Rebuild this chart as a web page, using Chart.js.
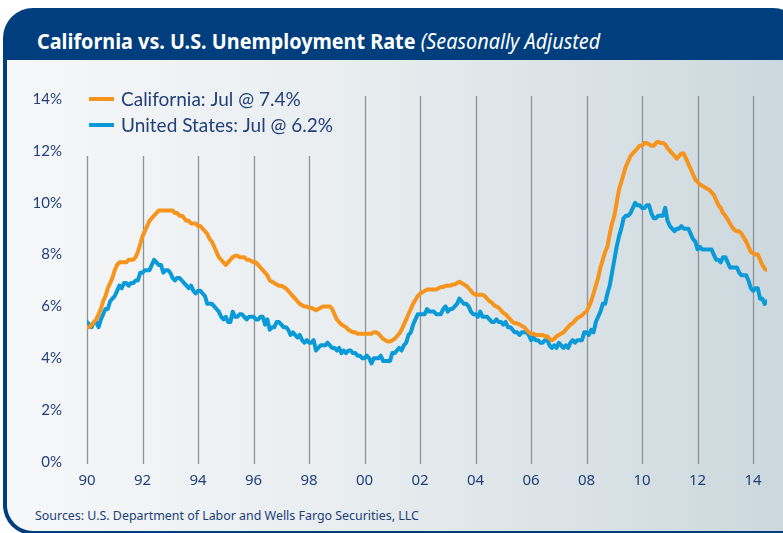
<!DOCTYPE html>
<html>
<head>
<meta charset="utf-8">
<script src="https://cdn.jsdelivr.net/npm/chart.js@4.4.1/dist/chart.umd.min.js"></script>
<style>
  html, body { margin: 0; padding: 0; width: 783px; height: 533px; overflow: hidden; background: #ffffff; }
  #frame { position: absolute; left: 3px; top: 8px; width: 800px; height: 527px; background: #003e7e; border-radius: 30px; }
  #panel { position: absolute; left: 4px; top: 52px; right: 0; bottom: 4px;
    background: linear-gradient(to right, #f6f7f9 0%, #eaeef0 40%, #dbe3e7 70%, #cad7dd 100%);
    border-bottom-left-radius: 26px; }
  #title { position: absolute; left: 37px; top: 29px; color: #ffffff; font-family: 'Noto Sans', sans-serif;
    font-size: 22px; line-height: 22px; white-space: nowrap; transform: scaleX(0.9); transform-origin: 0 0; }
  #title b { font-weight: bold; }
  #title i { font-weight: normal; font-style: italic; }
  #source { position: absolute; left: 35px; top: 506px; color: #21407a; font-family: 'Noto Sans', sans-serif;
    font-size: 13px; white-space: nowrap; transform: scaleX(0.955); transform-origin: 0 0; }
  #wrap { position: absolute; left: 0; top: 0; width: 783px; height: 533px; }
</style>
</head>
<body>
<div id="frame"><div id="panel"></div></div>
<div id="title"><b>California vs. U.S. Unemployment Rate</b> <i>(Seasonally Adjusted</i></div>
<div id="source">Sources: U.S. Department of Labor and Wells Fargo Securities, LLC</div>
<div id="wrap"><canvas id="chart" width="783" height="533"></canvas></div>
<script>
// Monthly unemployment rate, Jan 1990 - Jul 2014 (percent)
const startYear = 1990;
const caRate = [
  5.2, 5.2, 5.3, 5.4, 5.5, 5.7, 5.9, 6.2, 6.4, 6.7, 6.9, 7.1,        // 1990
  7.4, 7.6, 7.7, 7.7, 7.7, 7.7, 7.8, 7.8, 7.8, 7.9, 8.1, 8.4,        // 1991
  8.7, 8.9, 9.1, 9.3, 9.4, 9.5, 9.6, 9.7, 9.7, 9.7, 9.7, 9.7,        // 1992
  9.7, 9.7, 9.6, 9.6, 9.5, 9.5, 9.4, 9.3, 9.3, 9.2, 9.2, 9.2,        // 1993
  9.1, 9.1, 9.0, 8.9, 8.8, 8.6, 8.5, 8.3, 8.1, 7.9, 7.8, 7.7,        // 1994
  7.6, 7.7, 7.8, 7.9, 7.95, 7.95, 7.9, 7.9, 7.9, 7.8, 7.8, 7.75,     // 1995
  7.7, 7.7, 7.6, 7.5, 7.4, 7.3, 7.2, 7.0, 6.95, 6.9, 6.85, 6.8,      // 1996
  6.8, 6.75, 6.7, 6.6, 6.5, 6.4, 6.3, 6.2, 6.1, 6.05, 6.0, 6.0,      // 1997
  5.95, 5.95, 5.9, 5.85, 5.9, 5.95, 6.0, 6.0, 6.0, 6.0, 5.9, 5.7,    // 1998
  5.5, 5.4, 5.3, 5.25, 5.2, 5.1, 5.05, 5.0, 5.0, 4.95, 4.95, 4.95,   // 1999
  4.95, 4.95, 4.95, 4.95, 5.0, 5.0, 4.95, 4.85, 4.75, 4.7, 4.65, 4.65, // 2000
  4.7, 4.75, 4.85, 4.95, 5.1, 5.3, 5.5, 5.7, 5.9, 6.1, 6.25, 6.4,    // 2001
  6.5, 6.55, 6.6, 6.65, 6.65, 6.65, 6.65, 6.65, 6.7, 6.75, 6.75, 6.8, // 2002
  6.8, 6.8, 6.85, 6.85, 6.9, 6.95, 6.9, 6.85, 6.8, 6.7, 6.6, 6.5,    // 2003
  6.45, 6.45, 6.45, 6.45, 6.4, 6.3, 6.2, 6.15, 6.05, 6.0, 5.95, 5.85, // 2004
  5.75, 5.7, 5.6, 5.5, 5.4, 5.35, 5.35, 5.3, 5.25, 5.2, 5.1, 5.0,    // 2005
  4.95, 4.95, 4.9, 4.9, 4.9, 4.9, 4.85, 4.85, 4.75, 4.7, 4.75, 4.85, // 2006
  4.9, 4.95, 5.0, 5.1, 5.2, 5.3, 5.35, 5.45, 5.55, 5.6, 5.65, 5.75,  // 2007
  5.8, 6.0, 6.2, 6.5, 6.8, 7.1, 7.5, 7.8, 8.1, 8.3, 8.8, 9.2,        // 2008
  9.5, 10.0, 10.5, 10.8, 11.1, 11.4, 11.6, 11.8, 11.9, 12.0, 12.1, 12.2, // 2009
  12.2, 12.3, 12.3, 12.25, 12.2, 12.2, 12.3, 12.35, 12.3, 12.3, 12.25, 12.1, // 2010
  12.0, 11.9, 11.8, 11.7, 11.8, 11.9, 11.9, 11.7, 11.5, 11.3, 11.1, 10.9, // 2011
  10.8, 10.7, 10.65, 10.6, 10.55, 10.5, 10.4, 10.3, 10.1, 9.9, 9.8, 9.6, // 2012
  9.5, 9.35, 9.2, 9.05, 8.95, 8.9, 8.9, 8.8, 8.65, 8.5, 8.3, 8.1,    // 2013
  8.05, 8.0, 8.0, 7.8, 7.6, 7.45, 7.4                                 // 2014
];
const usRate = [
  5.4, 5.3, 5.2, 5.4, 5.4, 5.2, 5.5, 5.7, 5.9, 5.9, 6.2, 6.3,        // 1990
  6.4, 6.6, 6.8, 6.7, 6.9, 6.9, 6.8, 6.9, 6.9, 7.0, 7.0, 7.3,        // 1991
  7.3, 7.4, 7.4, 7.4, 7.6, 7.8, 7.7, 7.6, 7.6, 7.3, 7.4, 7.4,        // 1992
  7.3, 7.1, 7.0, 7.1, 7.1, 7.0, 6.9, 6.8, 6.7, 6.8, 6.6, 6.5,        // 1993
  6.6, 6.6, 6.5, 6.4, 6.1, 6.1, 6.1, 6.0, 5.9, 5.8, 5.6, 5.5,        // 1994
  5.6, 5.4, 5.4, 5.8, 5.6, 5.6, 5.7, 5.7, 5.6, 5.5, 5.6, 5.6,        // 1995
  5.6, 5.5, 5.5, 5.6, 5.6, 5.3, 5.5, 5.1, 5.2, 5.2, 5.4, 5.4,        // 1996
  5.3, 5.2, 5.2, 5.1, 4.9, 5.0, 4.9, 4.8, 4.9, 4.7, 4.6, 4.7,        // 1997
  4.6, 4.6, 4.7, 4.3, 4.4, 4.5, 4.5, 4.5, 4.6, 4.5, 4.4, 4.4,        // 1998
  4.3, 4.4, 4.2, 4.3, 4.2, 4.3, 4.3, 4.2, 4.2, 4.1, 4.1, 4.0,        // 1999
  4.0, 4.1, 4.0, 3.8, 4.0, 4.0, 4.0, 4.1, 3.9, 3.9, 3.9, 3.9,        // 2000
  4.2, 4.2, 4.3, 4.4, 4.3, 4.5, 4.6, 4.9, 5.0, 5.3, 5.5, 5.7,        // 2001
  5.7, 5.7, 5.7, 5.9, 5.8, 5.8, 5.8, 5.7, 5.7, 5.7, 5.9, 6.0,        // 2002
  5.8, 5.9, 5.9, 6.0, 6.1, 6.3, 6.2, 6.1, 6.1, 6.0, 5.8, 5.7,        // 2003
  5.7, 5.6, 5.8, 5.6, 5.6, 5.6, 5.5, 5.4, 5.4, 5.5, 5.4, 5.4,        // 2004
  5.3, 5.4, 5.2, 5.2, 5.1, 5.0, 5.0, 4.9, 5.0, 5.0, 5.0, 4.9,        // 2005
  4.7, 4.8, 4.7, 4.7, 4.6, 4.6, 4.7, 4.7, 4.5, 4.4, 4.5, 4.4,        // 2006
  4.6, 4.5, 4.4, 4.5, 4.4, 4.6, 4.7, 4.6, 4.7, 4.7, 4.7, 5.0,        // 2007
  5.0, 4.9, 5.1, 5.0, 5.4, 5.6, 5.8, 6.1, 6.1, 6.5, 6.8, 7.3,        // 2008
  7.8, 8.3, 8.7, 9.0, 9.4, 9.5, 9.5, 9.6, 9.8, 10.0, 9.9, 9.9,       // 2009
  9.8, 9.8, 9.9, 9.9, 9.6, 9.4, 9.4, 9.5, 9.5, 9.5, 9.8, 9.3,        // 2010
  9.1, 9.0, 8.9, 9.0, 9.0, 9.1, 9.0, 9.0, 9.0, 8.8, 8.6, 8.5,        // 2011
  8.2, 8.3, 8.2, 8.2, 8.2, 8.2, 8.2, 8.0, 7.8, 7.8, 7.7, 7.9,        // 2012
  7.9, 7.7, 7.5, 7.5, 7.5, 7.5, 7.3, 7.2, 7.2, 7.2, 7.0, 6.7,        // 2013
  6.6, 6.7, 6.7, 6.3, 6.3, 6.1, 6.2                                  // 2014
];
const seriesNames = ['California: Jul @ 7.4%', 'United States: Jul @ 6.2%'];
const tickYears = [1990, 1992, 1994, 1996, 1998, 2000, 2002, 2004, 2006, 2008, 2010, 2012, 2014];
const tickLabels = ['90', '92', '94', '96', '98', '00', '02', '04', '06', '08', '10', '12', '14'];
const yTicks = [0, 2, 4, 6, 8, 10, 12, 14];

const navy = '#21407a';
const toPoints = arr => arr.map((v, i) => ({ x: startYear + i / 12, y: v }));

// vertical year lines + legend drawn inside the plot
const plotExtras = {
  id: 'plotExtras',
  legendFont: '19px Lato, "Open Sans", sans-serif',
  beforeDatasetsDraw(chart) {
    const { ctx, chartArea, scales } = chart;
    ctx.save();
    ctx.font = this.legendFont;
    let legendEnd = 0;
    chart.data.datasets.forEach(ds => {
      legendEnd = Math.max(legendEnd, chartArea.left + 34 + ctx.measureText(ds.label).width);
    });
    ctx.strokeStyle = '#8d9297';
    ctx.lineWidth = 1.3;
    scales.x.ticks.forEach(t => {
      const px = Math.round(scales.x.getPixelForValue(t.value)) + 0.5;
      const top = px < legendEnd + 10 ? chartArea.top + 57 : chartArea.top - 3;
      ctx.beginPath();
      ctx.moveTo(px, top);
      ctx.lineTo(px, chartArea.bottom + 2);
      ctx.stroke();
    });
    ctx.restore();
  },
  afterDatasetsDraw(chart) {
    const { ctx, chartArea } = chart;
    ctx.save();
    ctx.font = this.legendFont;
    ctx.textBaseline = 'middle';
    chart.data.datasets.forEach((ds, i) => {
      const y = chartArea.top + i * 26;
      ctx.strokeStyle = ds.borderColor;
      ctx.lineWidth = 4;
      ctx.beginPath();
      ctx.moveTo(chartArea.left + 2, y);
      ctx.lineTo(chartArea.left + 27, y);
      ctx.stroke();
      ctx.fillStyle = navy;
      ctx.fillText(ds.label, chartArea.left + 34, y + 1);
    });
    ctx.restore();
  }
};

new Chart(document.getElementById('chart'), {
  type: 'line',
  data: {
    datasets: [
      { label: seriesNames[0], data: toPoints(caRate), borderColor: '#f7941d', borderWidth: 4, pointRadius: 0, tension: 0, borderJoinStyle: 'round', borderCapStyle: 'round' },
      { label: seriesNames[1], data: toPoints(usRate), borderColor: '#0a9ad8', borderWidth: 4, pointRadius: 0, tension: 0, borderJoinStyle: 'round', borderCapStyle: 'round' }
    ]
  },
  options: {
    responsive: false,
    animation: false,
    events: [],
    layout: { padding: { top: 99, right: 16, left: 0, bottom: 0 } },
    plugins: { legend: { display: false }, tooltip: { enabled: false } },
    scales: {
      x: {
        type: 'linear',
        min: startYear,
        max: startYear + (caRate.length - 1) / 12,
        afterBuildTicks: axis => { axis.ticks = tickYears.map(v => ({ value: v })); },
        afterFit: axis => { axis.height = 71; },
        grid: { display: false, drawTicks: false },
        border: { display: false },
        ticks: {
          padding: 10,
          color: navy,
          font: { family: '"Noto Sans", sans-serif', size: 15 },
          maxRotation: 0,
          callback: v => tickLabels[tickYears.indexOf(v)] ?? ''
        }
      },
      y: {
        min: 0,
        max: 14,
        afterBuildTicks: axis => { axis.ticks = yTicks.map(v => ({ value: v })); },
        afterFit: axis => { axis.width = 87; },
        grid: { display: false, drawTicks: false },
        border: { display: false },
        ticks: {
          padding: 25,
          color: navy,
          font: { family: 'Lato, "Open Sans", sans-serif', size: 15 },
          callback: v => v + '%'
        }
      }
    }
  },
  plugins: [plotExtras]
});
</script>
</body>
</html>
